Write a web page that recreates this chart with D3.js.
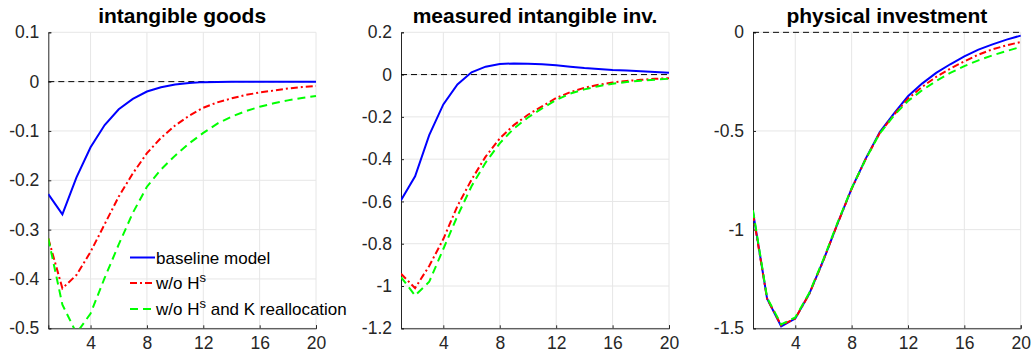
<!DOCTYPE html>
<html lang="en">
<head>
    <meta charset="UTF-8">
    <title>IRFs</title>
    <style>
        body { margin: 0; background: #fff; }
        svg { font-family: "Liberation Sans", Arial, sans-serif; }
    </style>
</head>
<body>
    <div id="graphic"></div>

    <script src="https://cdn.jsdelivr.net/npm/d3@7"></script>
    <script>
        var width = 1035;
        var height = 358;

        var periods = d3.range(1, 21);
        var xTicks = [4, 8, 12, 16, 20];
        var seriesNames = ['baseline model', 'w/o H', 'w/o H'];

        // intangible goods
        var goodsBase = [-0.228, -0.269, -0.194, -0.133, -0.088, -0.056, -0.035, -0.020, -0.0115, -0.006,
                         -0.003, -0.001, -0.0005, 0, 0, 0, 0, 0, 0, 0];
        var goodsNoHs = [-0.318, -0.419, -0.392, -0.345, -0.289, -0.233, -0.186, -0.145, -0.114, -0.089,
                         -0.069, -0.053, -0.042, -0.034, -0.027, -0.022, -0.018, -0.014, -0.011, -0.009];
        var goodsNoHsK = [-0.318, -0.452, -0.51, -0.47, -0.398, -0.33, -0.266, -0.213, -0.178, -0.150,
                          -0.125, -0.104, -0.085, -0.071, -0.060, -0.051, -0.044, -0.038, -0.033, -0.029];
        var goodsTicks = [0.1, 0, -0.1, -0.2, -0.3, -0.4, -0.5];

        // measured intangible inv.
        var invBase = [-0.594, -0.481, -0.286, -0.141, -0.047, 0.011, 0.0375, 0.05, 0.053, 0.051,
                       0.049, 0.044, 0.0375, 0.031, 0.027, 0.022, 0.019, 0.016, 0.0125, 0.009];
        var invNoHs = [-0.942, -1.01, -0.905, -0.778, -0.622, -0.497, -0.388, -0.302, -0.239, -0.19,
                       -0.15, -0.111, -0.083, -0.0625, -0.048, -0.0375, -0.030, -0.025, -0.020, -0.017];
        var invNoHsK = [-0.958, -1.045, -0.98, -0.825, -0.669, -0.528, -0.416, -0.325, -0.255, -0.203,
                        -0.16, -0.12, -0.09, -0.07, -0.055, -0.043, -0.035, -0.029, -0.024, -0.02];
        var invTicks = [0.2, 0, -0.2, -0.4, -0.6, -0.8, -1, -1.2];

        // physical investment
        var physBase = [-0.91, -1.35, -1.49, -1.451, -1.324, -1.155, -0.97, -0.792, -0.64, -0.505,
                        -0.412, -0.324, -0.26, -0.206, -0.162, -0.122, -0.088, -0.061, -0.037, -0.017];
        var physNoHs = [-0.92, -1.35, -1.485, -1.45, -1.325, -1.155, -0.97, -0.793, -0.642, -0.51,
                        -0.418, -0.336, -0.277, -0.226, -0.184, -0.147, -0.113, -0.086, -0.066, -0.049];
        var physNoHsK = [-0.902, -1.345, -1.48, -1.445, -1.32, -1.15, -0.965, -0.79, -0.642, -0.512,
                         -0.422, -0.348, -0.294, -0.247, -0.206, -0.171, -0.142, -0.117, -0.095, -0.074];
        var physTicks = [0, -0.5, -1, -1.5];

        var panels = [
            {title: 'intangible goods', left: 48.3, right: 316, domain: [-0.5, 0.1], ticks: goodsTicks,
             series: [goodsBase, goodsNoHs, goodsNoHsK], legend: true},
            {title: 'measured intangible inv.', left: 401, right: 669, domain: [-1.2, 0.2], ticks: invTicks,
             series: [invBase, invNoHs, invNoHsK]},
            {title: 'physical investment', left: 753, right: 1020.7, domain: [-1.5, 0], ticks: physTicks,
             series: [physBase, physNoHs, physNoHsK]}
        ];

        var styles = [
            {color: '#0000ff', dash: null},
            {color: '#ff0000', dash: '7,3,2,3'},
            {color: '#00ff00', dash: '8,5'}
        ];

        // note: "top" is taken by window.top
        var plotTop = 32.3, plotBottom = 328.3;

        var svg = d3.select('#graphic')
            .append('svg')
            .attr('width', width)
            .attr('height', height);

        panels.forEach(function(p, i) {
            var x = d3.scaleLinear().domain([1, 20]).range([p.left, p.right]);
            var y = d3.scaleLinear().domain(p.domain).range([plotBottom, plotTop]);
            var g = svg.append('g');

            // grid
            g.append('g').selectAll('line')
                .data(xTicks)
                .join('line')
                .attr('x1', x).attr('x2', x)
                .attr('y1', plotTop).attr('y2', plotBottom)
                .attr('stroke', '#e6e6e6');
            g.append('g').selectAll('line')
                .data(p.ticks)
                .join('line')
                .attr('x1', p.left).attr('x2', p.right)
                .attr('y1', y).attr('y2', y)
                .attr('stroke', '#e6e6e6');

            // axes
            var xAxis = d3.axisBottom(x).tickValues(xTicks).tickSize(-3).tickPadding(6);
            var yAxis = d3.axisLeft(y).tickValues(p.ticks).tickSize(-3).tickPadding(9)
                .tickFormat(function(d) { return String(d); });
            var ax = g.append('g').attr('transform', 'translate(0,' + plotBottom + ')').call(xAxis);
            var ay = g.append('g').attr('transform', 'translate(' + p.left + ',0)').call(yAxis);
            [ax, ay].forEach(function(a) {
                a.select('.domain').attr('stroke', '#262626');
                a.selectAll('.tick line').attr('stroke', '#262626');
                a.selectAll('.tick text')
                    .attr('font-size', 17.5)
                    .attr('font-family', '"Liberation Sans", Arial, sans-serif')
                    .attr('fill', '#262626');
            });
            ax.selectAll('.tick text').attr('dy', '0.85em');

            // clip
            var clipId = 'clip' + i;
            svg.append('clipPath').attr('id', clipId)
                .append('rect')
                .attr('x', p.left).attr('y', plotTop - 1)
                .attr('width', p.right - p.left + 1).attr('height', plotBottom - plotTop + 1);

            var plot = g.append('g').attr('clip-path', 'url(#' + clipId + ')');

            // zero line
            plot.append('line')
                .attr('x1', x(1)).attr('x2', x(20))
                .attr('y1', y(0)).attr('y2', y(0))
                .attr('stroke', '#000')
                .attr('stroke-width', 1)
                .attr('stroke-dasharray', '6,4');

            var line = d3.line()
                .x(function(d, j) { return x(periods[j]); })
                .y(function(d) { return y(d); });

            p.series.forEach(function(s, k) {
                plot.append('path')
                    .datum(s)
                    .attr('d', line)
                    .attr('fill', 'none')
                    .attr('stroke', styles[k].color)
                    .attr('stroke-width', 2)
                    .attr('stroke-dasharray', styles[k].dash);
            });

            // title
            g.append('text')
                .attr('x', (p.left + p.right) / 2)
                .attr('y', 23)
                .attr('text-anchor', 'middle')
                .attr('font-size', 21)
                .attr('font-weight', 'bold')
                .attr('fill', '#000')
                .text(p.title);

            if (p.legend) {
                var rows = [257.5, 283, 309];
                var lg = g.append('g');
                rows.forEach(function(ry, k) {
                    lg.append('line')
                        .attr('x1', 130).attr('x2', 155)
                        .attr('y1', ry).attr('y2', ry)
                        .attr('stroke', styles[k].color)
                        .attr('stroke-width', 2)
                        .attr('stroke-dasharray', styles[k].dash);
                    var t = lg.append('text')
                        .attr('x', 156)
                        .attr('y', ry + 6)
                        .attr('font-size', 17)
                        .attr('fill', '#000');
                    t.append('tspan').text(seriesNames[k]);
                    if (k > 0) {
                        t.append('tspan').attr('dy', -7).attr('font-size', 13).text('s');
                        if (k === 2) {
                            t.append('tspan').attr('dy', 7).text(' and K reallocation');
                        }
                    }
                });
            }
        });
    </script>
</body>
</html>
